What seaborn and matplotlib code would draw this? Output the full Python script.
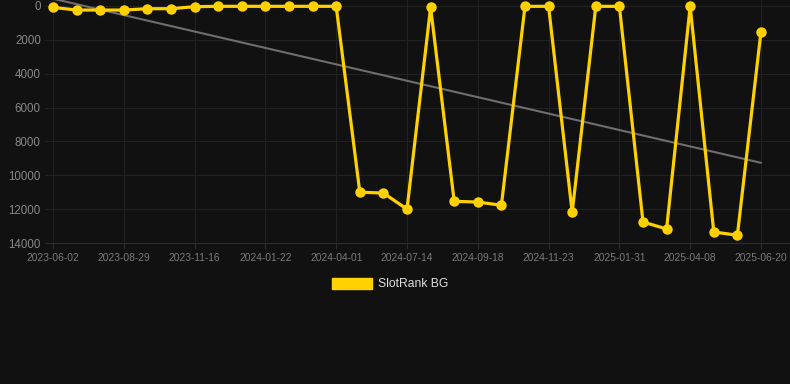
import numpy as np
import pandas as pd
import matplotlib
matplotlib.use("Agg")
import matplotlib.pyplot as plt
from matplotlib.patches import Patch
import seaborn as sns

# ---- data ----
rank_values = [80, 240, 240, 240, 160, 160, 40, 20, 20, 20, 20, 20, 20,
               11000, 11050, 12000, 80, 11540, 11580, 11770, 20, 20, 12190,
               20, 20, 12760, 13170, 20, 13350, 13540, 1515]
tick_labels = ["2023-06-02", "2023-08-29", "2023-11-16", "2024-01-22",
               "2024-04-01", "2024-07-14", "2024-09-18", "2024-11-23",
               "2025-01-31", "2025-04-08", "2025-06-20"]
series_name = "SlotRank BG"

BG = "#111111"
YELLOW = "#FFD100"

sns.set_theme(style="dark")
plt.rcParams.update({
    "figure.facecolor": BG,
    "axes.facecolor": BG,
    "savefig.facecolor": BG,
    "font.family": ["Liberation Sans", "DejaVu Sans"],
})

df = pd.DataFrame({"idx": np.arange(len(rank_values)), "rank": rank_values})

fig = plt.figure(figsize=(7.9, 3.84), dpi=100)
ax = fig.add_axes([45 / 790, 1 - 243 / 384, 1 - 45 / 790, 243 / 384])
ax.set_facecolor(BG)

# trend line (linear regression)
sns.regplot(data=df, x="idx", y="rank", scatter=False, ci=None, ax=ax,
            line_kws=dict(color="#6e6e6e", lw=1.5, zorder=2))

sns.lineplot(data=df, x="idx", y="rank", ax=ax, color=YELLOW, lw=2.3,
             marker="o", markersize=7.5, markeredgewidth=0,
             solid_joinstyle="miter", zorder=3, legend=False)

ax.set_xlim(-0.34, 31.23)
ax.set_ylim(14000, -354)
ax.set_yticks(np.arange(0, 14001, 2000))
ax.set_yticklabels([str(v) for v in range(0, 14001, 2000)])
ax.set_xticks(np.arange(0, len(rank_values), 3))
ax.set_xticklabels(tick_labels)

ax.grid(True, color="#222222", lw=0.8)
ax.set_axisbelow(True)
for s in ["top", "right", "left"]:
    ax.spines[s].set_visible(False)
ax.spines["bottom"].set_visible(True)
ax.spines["bottom"].set_color("#2c2c2c")
ax.spines["bottom"].set_linewidth(0.8)

ax.tick_params(axis="y", colors="#888888", labelsize=8.3, length=0, pad=3)
ax.tick_params(axis="x", colors="#2c2c2c", labelcolor="#7a7a7a",
               labelsize=7.4, length=4, width=0.8, pad=3, direction="out",
               bottom=True)
ax.set_xlabel("")
ax.set_ylabel("")

handle = Patch(facecolor=YELLOW, edgecolor=YELLOW)
fig.legend(handles=[handle], labels=[series_name], loc="center",
           bbox_to_anchor=(390 / 790, 1 - 284 / 384), frameon=False,
           handlelength=3.3, handleheight=1.0, handletextpad=0.5,
           fontsize=8.7, labelcolor="#dddddd")

fig.savefig("out.png", dpi=100, facecolor=BG)
